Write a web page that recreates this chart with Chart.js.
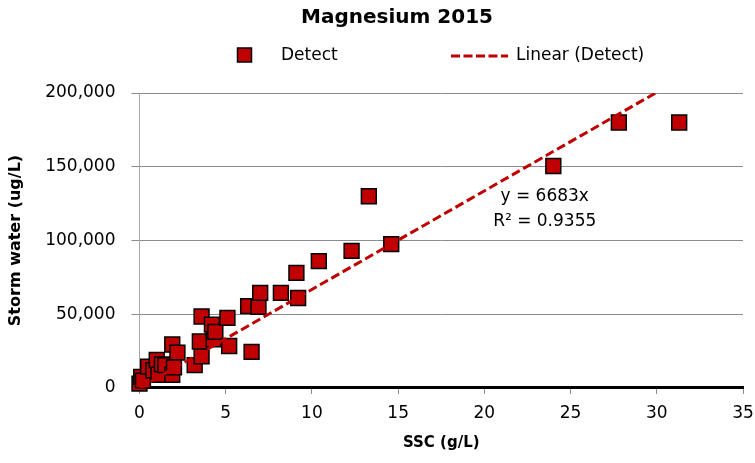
<!DOCTYPE html>
<html>
<head>
<meta charset="utf-8">
<script src="https://cdn.jsdelivr.net/npm/chart.js@4/dist/chart.umd.min.js"></script>
<style>
  html, body { margin: 0; padding: 0; background: #fff; }
  #wrap { width: 755px; height: 463px; }
</style>
</head>
<body>
<div id="wrap"><canvas id="c" width="755" height="463"></canvas></div>
<script>
// ---- data ----
const detectSSC = [0, 0.1, 0.2, 0.5, 0.8, 1.0, 1.1, 1.3, 1.5, 1.9, 1.9, 2.2, 2.0, 3.2, 3.6, 3.5, 3.6, 4.2, 4.3, 4.4, 5.1, 5.2, 6.3, 6.5, 6.9, 7.0, 8.2, 9.1, 9.2, 10.4, 12.3, 13.3, 14.6, 24.0, 27.8, 31.3];
const detectMg  = [3000, 7500, 5000, 14500, 12000, 19000, 9000, 16000, 15500, 9000, 29500, 24000, 14000, 15500, 21500, 31500, 48500, 43000, 33000, 38000, 47500, 28500, 55500, 24500, 55000, 64500, 64500, 78000, 61000, 86000, 93000, 130000, 97500, 150500, 180000, 180000];
const trendSSC = [0, 29.93];
const trendMg  = [0, 200000];
const xTicks = [0, 5, 10, 15, 20, 25, 30, 35];
const yTicks = [0, 50000, 100000, 150000, 200000];
const titleText = 'Magnesium 2015';
const seriesNames = ['Detect', 'Linear (Detect)'];
const equationLines = ['y = 6683x', 'R\u00B2 = 0.9355'];
const xTitle = 'SSC (g/L)';
const yTitle = 'Storm water (ug/L)';

const RED = '#c00000';
const FONT = "'DejaVu Sans', sans-serif";

const scatterData = detectSSC.map((x, i) => ({ x: x, y: detectMg[i] }));
const trendData = trendSSC.map((x, i) => ({ x: x, y: trendMg[i] }));

const overlay = {
  id: 'overlay',
  afterDraw(chart) {
    const ctx = chart.ctx;
    const xs = chart.scales.x, ys = chart.scales.y;
    ctx.save();
    // title
    ctx.fillStyle = '#000';
    ctx.font = 'bold 20px ' + FONT;
    ctx.textAlign = 'center';
    ctx.textBaseline = 'alphabetic';
    ctx.fillText(titleText, 397, 23);
    // legend
    ctx.fillStyle = RED;
    ctx.strokeStyle = '#000';
    ctx.lineWidth = 1.5;
    ctx.fillRect(237.5, 48, 14, 14);
    ctx.strokeRect(237.5, 48, 14, 14);
    ctx.font = '17px ' + FONT;
    ctx.fillStyle = '#000';
    ctx.textBaseline = 'middle';
    ctx.textAlign = 'left';
    ctx.fillText(seriesNames[0], 281, 56);
    ctx.strokeStyle = RED;
    ctx.lineWidth = 3;
    ctx.setLineDash([9, 3.5]);
    ctx.beginPath();
    ctx.moveTo(451, 56);
    ctx.lineTo(508, 56);
    ctx.stroke();
    ctx.setLineDash([]);
    ctx.fillText(seriesNames[1], 516, 56);
    // equation
    ctx.textAlign = 'center';
    const cx = xs.getPixelForValue(23.5);
    ctx.fillText(equationLines[0], cx, ys.getPixelForValue(129500));
    ctx.fillText(equationLines[1], cx, ys.getPixelForValue(112500));
    ctx.restore();
  }
};

new Chart(document.getElementById('c'), {
  type: 'scatter',
  data: {
    datasets: [
      {
        type: 'line',
        label: seriesNames[1],
        data: trendData,
        borderColor: RED,
        borderWidth: 3,
        borderDash: [9, 4],
        pointRadius: 0,
        fill: false,
        order: 0
      },
      {
        label: seriesNames[0],
        data: scatterData,
        pointStyle: 'rect',
        pointRadius: 10.5,
        pointHoverRadius: 10.5,
        backgroundColor: RED,
        borderColor: '#000',
        borderWidth: 1.5,
        clip: false,
        order: 1
      }
    ]
  },
  options: {
    responsive: false,
    animation: false,
    events: [],
    layout: { padding: { left: 6, right: 11, top: 93, bottom: 11 } },
    plugins: {
      legend: { display: false },
      tooltip: { enabled: false },
      title: { display: false, text: titleText }
    },
    scales: {
      x: {
        type: 'linear',
        min: 0,
        max: 35,
        afterBuildTicks(s) { s.ticks = xTicks.map(v => ({ value: v })); },
        grid: { drawOnChartArea: false, drawTicks: true, tickLength: 6, color: '#8c8c8c', lineWidth: 1 },
        border: { display: true, color: '#000', width: 3 },
        ticks: { color: '#000', font: { family: FONT, size: 17, lineHeight: 2.353 }, padding: 0, maxRotation: 0 },
        title: { display: true, text: xTitle, color: '#000', font: { family: FONT, size: 15, weight: 'bold' }, padding: { top: 0, bottom: 0 } }
      },
      y: {
        type: 'linear',
        min: 0,
        max: 200000,
        afterBuildTicks(s) { s.ticks = yTicks.map(v => ({ value: v })); },
        grid: { drawOnChartArea: true, drawTicks: true, tickLength: 8, color: '#8c8c8c', lineWidth: 1 },
        border: { display: true, color: '#a6a6a6', width: 1 },
        ticks: { color: '#000', font: { family: FONT, size: 17 }, padding: 16, callback: v => v.toLocaleString('en-US') },
        title: { display: true, text: yTitle, color: '#000', font: { family: FONT, size: 16, weight: 'bold' }, padding: { top: 0, bottom: 4 } }
      }
    }
  },
  plugins: [overlay]
});
</script>
</body>
</html>
